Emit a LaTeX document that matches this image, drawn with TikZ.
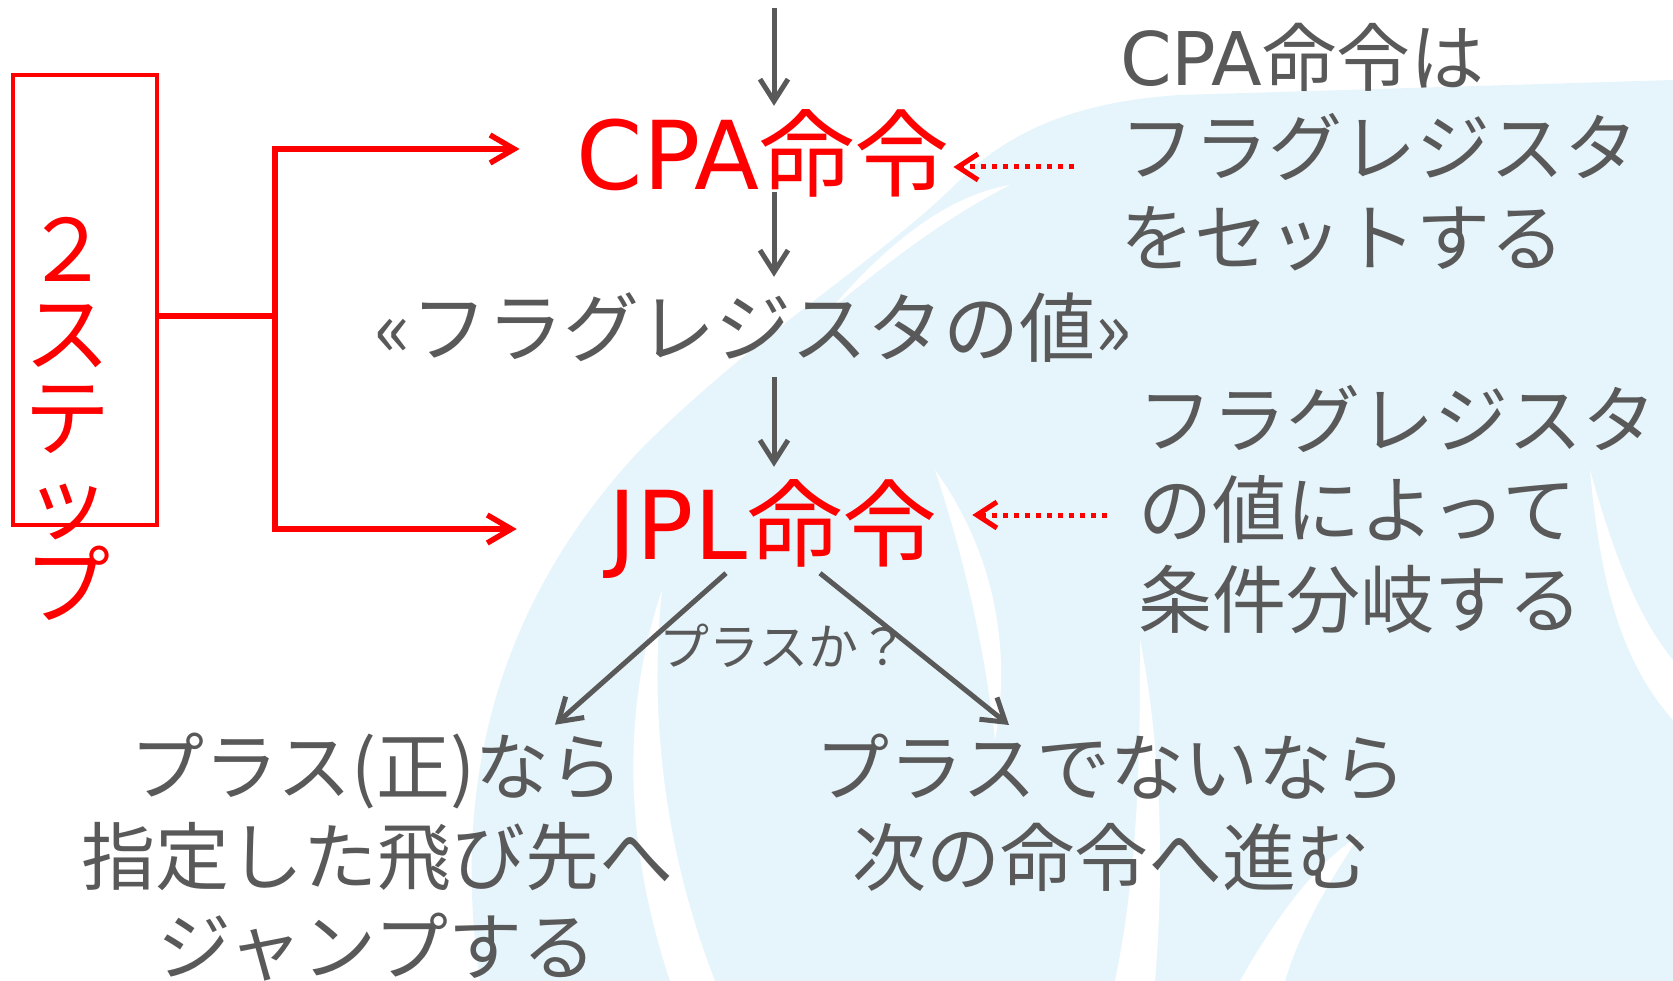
\documentclass[tikz,border=0pt]{standalone}
\usepackage{fontspec}
\setmainfont{Noto Sans CJK JP}
\newfontfamily\lat{DejaVu Sans}
\usetikzlibrary{arrows.meta,calc}
\definecolor{txtgray}{HTML}{595959}
\definecolor{bgblue}{HTML}{E6F5FC}
\definecolor{myred}{HTML}{FF0000}
\begin{document}
\begin{tikzpicture}[x=1pt,y=-1pt,
  graytext/.style={text=txtgray, inner sep=0pt, font=\fontsize{74}{90}\selectfont},
  redtext/.style={text=myred, inner sep=0pt, font=\fontsize{95}{95}\selectfont},
  grayarrow/.style={draw=txtgray, line width=5pt, -{Straight Barb[length=22pt,width=28pt]}},
  redline/.style={draw=myred, line width=5.5pt},
  redarrow/.style={redline, -{Straight Barb[length=24pt,width=28pt]}},
  dotarrow/.style={draw=myred, line width=5pt, dash pattern=on 5pt off 6pt, -{Straight Barb[length=20pt,width=26pt]}},
  swirlgap/.style={fill=white},
]
\useasboundingbox (0,0) rectangle (1673,981);
\fill[white] (0,0) rectangle (1673,981);
% background decoration
\fill[bgblue] (480,981) .. controls (450,780) and (500,600) .. (640,450) .. controls (760,330) and (880,260) .. (960,180) .. controls (1020,120) and (1100,100) .. (1180,95) -- (1673,80) -- (1673,981) -- cycle;
\fill[swirlgap] (670,981) .. controls (620,830) and (625,700) .. (662,590) .. controls (650,700) and (660,840) .. (715,981) -- cycle;
\fill[swirlgap] (935,470) .. controls (1000,560) and (1010,660) .. (995,740) .. controls (985,650) and (965,560) .. (935,470) -- cycle;
\fill[swirlgap] (1115,981) .. controls (1140,860) and (1140,740) .. (1140,640) .. controls (1160,740) and (1165,860) .. (1155,981) -- cycle;
\fill[swirlgap] (1590,470) .. controls (1600,580) and (1620,660) .. (1673,720) -- (1673,660) .. controls (1640,620) and (1615,560) .. (1590,470) -- cycle;
\fill[swirlgap] (1240,981) .. controls (1280,910) and (1320,860) .. (1360,835) .. controls (1330,880) and (1300,930) .. (1285,981) -- cycle;
\fill[swirlgap] (830,310) .. controls (890,240) and (950,195) .. (1010,185) .. controls (950,215) and (890,260) .. (830,310) -- cycle;

% nodes
\coordinate (topin) at (774,8);
\node[redtext, anchor=base, text height=84pt, text depth=2pt] (cpa) at (763,190) {{\lat CPA}命令};
\node[graytext, anchor=base, text height=80pt, text depth=20pt, font=\fontsize{76}{90}\selectfont] (flag) at (753,357) {«フラグレジスタの値»};
\node[redtext, anchor=base, text height=92pt, text depth=32pt] (jpl) at (773,559) {{\lat JPL}命令};
\node[graytext, anchor=west, align=left] (note1) at (1120,147) {{\lat CPA}命令は\\フラグレジスタ\\をセットする};
\node[graytext, anchor=west, align=left] (note2) at (1138,510) {フラグレジスタ\\の値によって\\条件分岐する};
\node[graytext, align=center] (yes) at (377,857) {プラス(正)なら\\指定した飛び先へ\\ジャンプする};
\node[graytext, align=center] (no) at (1111,813) {プラスでないなら\\次の命令へ進む};
\node[draw=myred, line width=4pt, minimum width=144pt, minimum height=450pt, inner sep=0pt] (box) at (85,300) {};
\node[text=myred, inner sep=0pt, align=center, font=\fontsize{86}{84}\selectfont] (steps) at (67,419) {２\\ス\\テ\\ッ\\プ};

% connectors
\draw[grayarrow] (topin) -- (topin |- cpa.north);
\draw[grayarrow] (topin |- cpa.south) -- (topin |- flag.north);
\draw[grayarrow] (topin |- flag.south) -- (topin |- jpl.north);
\draw[grayarrow] ($(jpl.south)+(-47,-18)$) -- ($(yes.north)+(178,-8)$);
\draw[grayarrow] ($(jpl.south)+(47,-18)$) -- ($(no.north)+(-102,-9)$);
\node[graytext, font=\fontsize{50}{50}\selectfont] (q) at (784,646) {プラスか？};

\coordinate (bx) at (275,316);
\draw[redline] (box.east |- bx) -- (bx);
\draw[redarrow, shorten >=57pt] (bx) |- (cpa.west);
\draw[redarrow, shorten >=92pt] (bx) |- (jpl.west);
\draw[dotarrow] ($(note1.west)+(-46,20)$) -- ($(cpa.east)+(4,18)$);
\draw[dotarrow] ($(note2.west)+(-31,5)$) -- ($(jpl.east)+(35,-14)$);
\end{tikzpicture}
\end{document}
